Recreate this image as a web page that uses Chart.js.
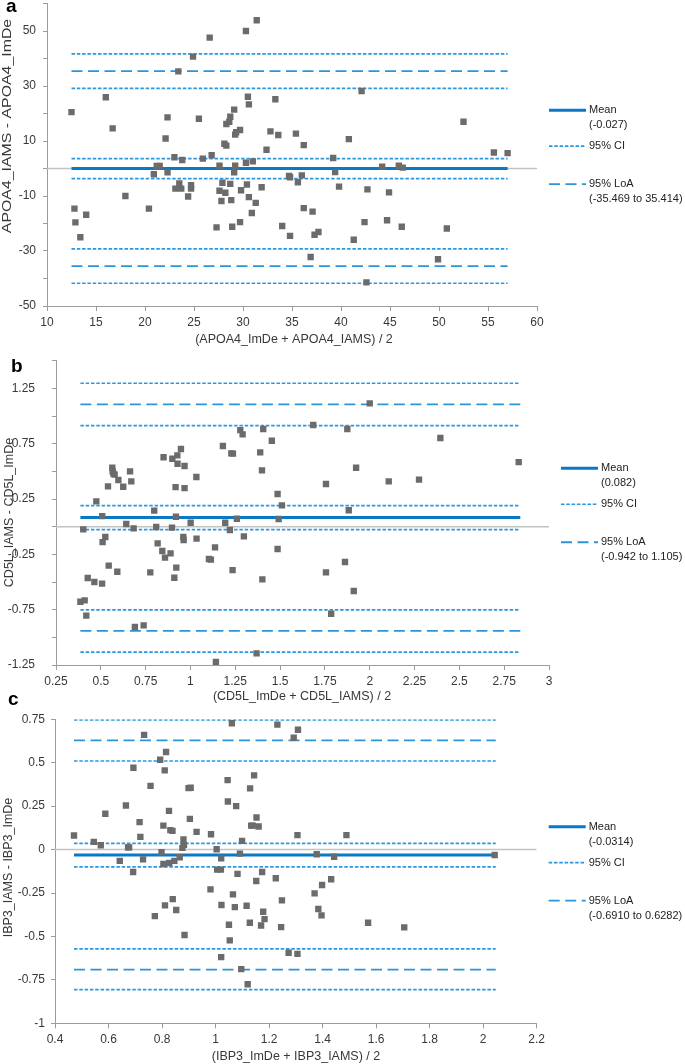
<!DOCTYPE html>
<html>
<head>
<meta charset="utf-8">
<script src="https://cdn.jsdelivr.net/npm/chart.js@4.4.1/dist/chart.umd.min.js"></script>
<style>
  html, body { margin: 0; padding: 0; background: #fff; }
  body { position: relative; width: 685px; height: 1064px; overflow: hidden; }
  canvas { position: absolute; left: 0; }
  .tag { position: absolute; font: bold 19px "Liberation Sans", Arial, sans-serif; line-height: 1; color: #000; }
</style>
</head>
<body>
<canvas id="chartA" width="685" height="355" style="top:0px"></canvas>
<canvas id="chartB" width="685" height="360" style="top:350px"></canvas>
<canvas id="chartC" width="685" height="364" style="top:700px"></canvas>
<div class="tag" style="left:6px;top:-4px">a</div>
<div class="tag" style="left:11px;top:356px">b</div>
<div class="tag" style="left:8px;top:689px">c</div>

<script>
// --- panel a : APOA4 ---
const apoaAvg = [12.5, 12.8, 12.9, 13.4, 14.0, 16.0, 16.7, 18.0, 20.4, 20.9, 21.2, 21.5, 22.1, 22.3, 22.3, 23.0, 23.1, 23.4, 23.5, 23.7,
  23.8, 24.4, 24.7, 24.7, 24.9, 25.5, 25.9, 26.6, 26.8, 27.3, 27.6, 27.6, 27.8, 27.9, 28.1, 28.2, 28.3, 28.3, 28.6, 28.7,
  28.7, 28.8, 28.9, 29.1, 29.1, 29.2, 29.2, 29.3, 29.7, 29.7, 29.8, 30.3, 30.3, 30.4, 30.5, 30.6, 30.6, 30.9, 31.0, 31.3,
  31.4, 31.9, 32.4, 32.8, 33.3, 33.6, 34.0, 34.7, 34.8, 34.8, 35.4, 35.6, 36.0, 36.2, 36.2, 37.1, 36.9, 37.3, 37.7, 39.2,
  39.4, 39.8, 42.1, 52.5, 40.8, 55.6, 57.0, 44.2, 45.9, 46.3, 42.7, 44.9, 42.4, 44.7, 46.2, 50.8, 41.3, 49.9, 42.6];
const apoaDiff = [20.5, -14.6, -19.6, -25.0, -16.8, 25.9, 14.6, -10.0, -14.6, -2.1, 0.9, 0.9, 10.9, -1.4, 18.6, 4.1, -7.3, 35.3, -5.4, -7.3,
  3.1, -10.2, -6.1, -7.3, 40.7, 18.1, 3.6, 47.6, 4.8, -21.4, -8.1, 1.0, -11.8, -5.2, 9.0, -8.8, 8.3, 16.2, 17.0, 18.8,
  -5.6, -11.5, -21.2, 21.4, -1.4, 1.0, 12.3, 13.2, 14.0, -19.5, -7.9, 2.1, 50.0, -5.8, 26.1, 23.3, -10.4, -16.2, 2.6, -12.5,
  53.9, -6.8, 6.8, 13.5, 25.2, 12.2, -20.9, -2.7, -3.2, -24.5, 12.7, -5.0, -2.5, 8.5, -14.4, -15.7, -32.2, -24.1, -23.1, 3.8,
  -1.3, -6.6, 28.2, 17.0, 10.7, 5.8, 5.6, 0.7, 1.0, 0.3, -7.6, -8.7, -19.5, -18.8, -21.2, -21.8, -25.9, -33.0, -41.4];
const apoaMean = -0.027;
const apoaLoA = [-35.469, 35.414];
const apoaMeanCI = [-3.66, 3.60];
const apoaLowCI = [-41.72, -29.22];
const apoaHighCI = [29.16, 41.66];
const apoaSpan = [12.5, 57.0];
const apoaXTicks = [10, 15, 20, 25, 30, 35, 40, 45, 50, 55, 60];
const apoaYTicks = [-50, -40, -30, -20, -10, 0, 10, 20, 30, 40, 50, 60];
const apoaYLabels = [-50, -30, -10, 10, 30, 50];

// --- panel b : CD5L ---
const cd5lAvg = [0.386, 0.410, 0.419, 0.402, 0.427, 0.464, 0.475, 0.507, 0.508, 0.510, 0.525, 0.540, 0.544, 0.564, 0.566, 0.570, 0.577, 0.592, 0.598, 0.625,
  0.642, 0.663, 0.670, 0.683, 0.690, 0.739, 0.776, 0.798, 0.809, 0.817, 0.843, 0.850, 0.858, 0.889, 0.897, 0.899, 0.910, 0.917, 0.919, 0.921,
  0.927, 0.928, 0.947, 0.960, 0.962, 0.967, 0.967, 1.001, 1.033, 1.034, 1.103, 1.114, 1.137, 1.142, 1.181, 1.194, 1.220, 1.228, 1.237, 1.235,
  1.259, 1.278, 1.291, 1.298, 1.369, 1.389, 1.399, 1.401, 1.406, 1.454, 1.486, 1.486, 1.492, 1.510, 1.685, 1.756, 1.756, 1.785, 2.000, 1.875,
  2.394, 1.924, 2.831, 2.106, 2.275, 1.883, 1.862, 1.911];
const cd5lDiff = [-0.678, -0.666, -0.804, -0.024, -0.464, -0.500, 0.229, -0.515, 0.096, -0.139, -0.093, 0.364, -0.352, 0.533, 0.500, 0.479, 0.470, -0.407, 0.422, 0.361,
  0.024, 0.500, 0.410, -0.015, -0.907, -0.892, -0.413, 0.145, -0.003, -0.151, -0.220, 0.627, -0.280, -0.241, -0.009, 0.614, -0.461, 0.358, 0.090, -0.370,
  0.645, 0.569, 0.702, -0.093, -0.120, 0.548, 0.349, 0.036, 0.449, -0.108, -0.292, -0.298, -0.187, -1.223, 0.729, 0.036, -0.030, 0.663, 0.660, -0.392,
  0.072, 0.873, 0.834, -0.087, -1.145, 0.672, 0.509, -0.476, 0.883, 0.777, -0.202, 0.295, 0.069, 0.193, 0.919, 0.386, -0.413, -0.787, 1.114, 0.883,
  0.801, 0.533, 0.584, 0.410, 0.425, 0.148, -0.319, -0.581];
const cd5lMean = 0.082;
const cd5lLoA = [-0.942, 1.105];
const cd5lMeanCI = [-0.027, 0.191];
const cd5lLowCI = [-1.133, -0.751];
const cd5lHighCI = [0.914, 1.296];
const cd5lSpan = [0.386, 2.84];
const cd5lXTicks = [0.25, 0.5, 0.75, 1, 1.25, 1.5, 1.75, 2, 2.25, 2.5, 2.75, 3];
const cd5lYTicks = [-1.25, -1, -0.75, -0.5, -0.25, 0, 0.25, 0.5, 0.75, 1, 1.25, 1.5];
const cd5lYLabels = [-1.25, -0.75, -0.25, 0.25, 0.75, 1.25];

// --- panel c : IBP3 ---
const ibp3Avg = [0.471, 0.545, 0.571, 0.588, 0.642, 0.665, 0.673, 0.677, 0.693, 0.692, 0.716, 0.719, 0.729, 0.733, 0.757, 0.773, 0.793, 0.798, 0.805, 0.805,
  0.810, 0.811, 0.815, 0.826, 0.827, 0.831, 0.839, 0.840, 0.846, 0.853, 0.866, 0.876, 0.880, 0.882, 0.884, 0.899, 0.907, 0.904, 0.929, 0.981,
  0.983, 1.004, 1.006, 1.020, 1.021, 1.021, 1.022, 1.045, 1.046, 1.050, 1.053, 1.061, 1.065, 1.072, 1.077, 1.082, 1.091, 1.099, 1.096, 1.116,
  1.120, 1.128, 1.129, 1.133, 1.139, 1.144, 1.152, 1.153, 1.161, 1.170, 1.174, 1.178, 1.183, 1.225, 1.231, 1.245, 1.248, 1.273, 1.292, 1.306,
  1.306, 1.308, 1.370, 1.378, 1.384, 1.396, 1.398, 1.432, 1.443, 1.489, 2.043, 1.570, 1.705];
const ibp3Diff = [0.081, 0.044, 0.025, 0.206, -0.065, 0.254, 0.013, 0.013, 0.471, -0.129, 0.158, 0.073, -0.056, 0.660, 0.367, -0.383, 0.517, -0.015, 0.138, -0.083,
  0.456, -0.321, 0.562, 0.223, -0.077, 0.112, 0.108, -0.285, -0.065, -0.348, -0.044, 0.010, 0.058, 0.027, -0.492, 0.354, 0.356, 0.177, 0.102, -0.229,
  0.088, 0.002, -0.115, -0.115, -0.050, -0.619, -0.319, 0.400, 0.277, -0.433, -0.523, 0.727, -0.258, -0.331, 0.250, -0.140, -0.023, 0.050, -0.688, -0.323,
  -0.775, -0.421, 0.352, 0.138, 0.138, 0.427, -0.181, 0.185, 0.133, -0.437, -0.129, -0.358, -0.400, -0.165, 0.719, -0.446, -0.292, -0.594, 0.644, -0.600,
  0.083, 0.690, -0.252, -0.027, -0.342, -0.379, -0.204, -0.171, -0.041, 0.083, -0.031, -0.421, -0.448];
const ibp3Mean = -0.0314;
const ibp3LoA = [-0.6910, 0.6282];
const ibp3MeanCI = [-0.099, 0.036];
const ibp3LowCI = [-0.806, -0.572];
const ibp3HighCI = [0.510, 0.746];
const ibp3Span = [0.471, 2.047];
const ibp3XTicks = [0.4, 0.6, 0.8, 1, 1.2, 1.4, 1.6, 1.8, 2, 2.2];
const ibp3YTicks = [-1, -0.75, -0.5, -0.25, 0, 0.25, 0.5, 0.75];
const ibp3YLabels = ibp3YTicks;

const FONT = '"Liberation Sans", Arial, sans-serif';
const TEXT = '#383838';
const AXIS = '#9c9c9c';
const MEAN = { color: '#0b78c6', width: 3, dash: [] };
const CI = { color: '#2a98de', width: 1.7, dash: [3.5, 1.8] };
const LOA = { color: '#2f93d8', width: 1.8, dash: [11, 5.5] };

function hline(y, span, st) {
  return {
    data: [{ x: span[0], y: y }, { x: span[1], y: y }],
    showLine: true, borderColor: st.color, borderWidth: st.width, borderDash: st.dash,
    pointRadius: 0, pointHoverRadius: 0, fill: false
  };
}

// titles and the multi-line legend on the right
const extras = {
  id: 'extras',
  afterDraw(chart, args, o) {
    const ctx = chart.ctx, a = chart.chartArea;
    ctx.save();
    ctx.fillStyle = TEXT;
    ctx.textBaseline = 'middle';
    ctx.font = '12.5px ' + FONT;
    ctx.save();
    ctx.translate(o.yPos[0], o.yPos[1]);
    ctx.rotate(-Math.PI / 2);
    ctx.scale(o.yPos[2], 1);
    ctx.textAlign = 'center';
    ctx.fillText(o.yText, 0, 0);
    ctx.restore();
    ctx.textAlign = 'center';
    ctx.fillText(o.xText, o.xPos[0], o.xPos[1]);

    const cy = (a.top + a.bottom) / 2 - 44.6;
    const x0 = a.right + 12, x1 = x0 + 37, tx = x0 + 40;
    const items = [[MEAN, 0], [CI, 36], [LOA, 74]];
    items.forEach(([st, dy]) => {
      ctx.beginPath();
      ctx.strokeStyle = st.color;
      ctx.lineWidth = st.width;
      ctx.setLineDash(st.dash);
      ctx.moveTo(x0, cy + dy);
      ctx.lineTo(x1, cy + dy);
      ctx.stroke();
    });
    ctx.setLineDash([]);
    ctx.font = '11px ' + FONT;
    ctx.textAlign = 'left';
    ctx.fillStyle = '#222';
    ctx.fillText('Mean', tx, cy);
    ctx.fillText(o.meanText, tx, cy + 15);
    ctx.fillText('95% CI', tx, cy + 36);
    ctx.fillText('95% LoA', tx, cy + 74);
    ctx.fillText(o.loaText, tx, cy + 89);
    ctx.restore();
  }
};

function noPad(s) {
  s.paddingTop = 0; s.paddingBottom = 0; s.paddingLeft = 0; s.paddingRight = 0;
}

function makePanel(id, p) {
  const el = document.getElementById(id);
  const H = el.height;
  const top = p.area.top - p.canvasTop;
  const bottom = p.area.bottom - p.canvasTop;
  const pts = p.avg.map((v, i) => ({ x: v, y: p.diff[i] }));
  const datasets = [
    { data: pts, pointStyle: 'rect', pointRadius: 4.5, pointHoverRadius: 4.5, pointBorderWidth: 0,
      backgroundColor: '#6b6b6b', borderColor: '#6b6b6b', showLine: false },
    hline(p.mean, p.span, MEAN),
    hline(p.meanCI[0], p.span, CI), hline(p.meanCI[1], p.span, CI),
    hline(p.loa[0], p.span, LOA), hline(p.loa[1], p.span, LOA),
    hline(p.lowCI[0], p.span, CI), hline(p.lowCI[1], p.span, CI),
    hline(p.highCI[0], p.span, CI), hline(p.highCI[1], p.span, CI),
    hline(0, [p.xTicks[0], p.xTicks[p.xTicks.length - 1]], { color: '#c2c2c2', width: 1.5, dash: [] })
  ];
  return new Chart(el, {
    type: 'scatter',
    data: { datasets: datasets },
    plugins: [extras],
    options: {
      responsive: false,
      animation: false,
      events: [],
      layout: { autoPadding: false, padding: { left: 0, top: top, right: 685 - p.area.right, bottom: 0 } },
      plugins: {
        legend: { display: false },
        tooltip: { enabled: false },
        extras: {
          yText: p.yText, xText: p.xText, meanText: p.meanText, loaText: p.loaText,
          yPos: [p.yPos[0], p.yPos[1] - p.canvasTop, p.yPos[2]],
          xPos: [p.xPos[0], p.xPos[1] - p.canvasTop]
        }
      },
      scales: {
        x: {
          type: 'linear',
          min: p.xTicks[0], max: p.xTicks[p.xTicks.length - 1],
          afterBuildTicks: s => { s.ticks = p.xTicks.map(v => ({ value: v })); },
          afterFit: s => { s.height = H - bottom; noPad(s); },
          ticks: { autoSkip: false, maxRotation: 0, padding: 4, color: TEXT, font: { family: FONT, size: 12 },
            callback: v => String(v) },
          grid: { drawOnChartArea: false, drawTicks: true, tickLength: 5, color: AXIS },
          border: { display: true, color: AXIS, width: 1 }
        },
        y: {
          type: 'linear',
          min: p.yTicks[0], max: p.yTicks[p.yTicks.length - 1],
          afterBuildTicks: s => { s.ticks = p.yTicks.map(v => ({ value: v })); },
          afterFit: s => { s.width = p.area.left; noPad(s); },
          ticks: { autoSkip: false, padding: p.yPad, color: TEXT, font: { family: FONT, size: 12 },
            callback: v => p.yLabels.includes(v) ? String(v) : '' },
          grid: { drawOnChartArea: false, drawTicks: true, tickLength: 4, color: AXIS },
          border: { display: true, color: AXIS, width: 1 }
        }
      }
    }
  });
}

makePanel('chartA', {
  canvasTop: 0, area: { left: 47, right: 537, top: 3.5, bottom: 306 }, yPad: 7,
  avg: apoaAvg, diff: apoaDiff, mean: apoaMean, loa: apoaLoA, meanCI: apoaMeanCI, lowCI: apoaLowCI, highCI: apoaHighCI,
  span: apoaSpan, xTicks: apoaXTicks, yTicks: apoaYTicks, yLabels: apoaYLabels,
  yText: 'APOA4_IAMS - APOA4_ImDe', xText: '(APOA4_ImDe + APOA4_IAMS) / 2',
  meanText: '(-0.027)', loaText: '(-35.469 to 35.414)',
  yPos: [8, 126, 1.27], xPos: [294, 340]
});

makePanel('chartB', {
  canvasTop: 350, area: { left: 56, right: 549, top: 360.7, bottom: 665 }, yPad: 17,
  avg: cd5lAvg, diff: cd5lDiff, mean: cd5lMean, loa: cd5lLoA, meanCI: cd5lMeanCI, lowCI: cd5lLowCI, highCI: cd5lHighCI,
  span: cd5lSpan, xTicks: cd5lXTicks, yTicks: cd5lYTicks, yLabels: cd5lYLabels,
  yText: 'CD5L_IAMS - CD5L_ImDe', xText: '(CD5L_ImDe + CD5L_IAMS) / 2',
  meanText: '(0.082)', loaText: '(-0.942 to 1.105)',
  yPos: [10, 512.5, 1], xPos: [302, 697]
});

makePanel('chartC', {
  canvasTop: 700, area: { left: 55, right: 536.7, top: 719.3, bottom: 1023.3 }, yPad: 6,
  avg: ibp3Avg, diff: ibp3Diff, mean: ibp3Mean, loa: ibp3LoA, meanCI: ibp3MeanCI, lowCI: ibp3LowCI, highCI: ibp3HighCI,
  span: ibp3Span, xTicks: ibp3XTicks, yTicks: ibp3YTicks, yLabels: ibp3YLabels,
  yText: 'IBP3_IAMS - IBP3_ImDe', xText: '(IBP3_ImDe + IBP3_IAMS) / 2',
  meanText: '(-0.0314)', loaText: '(-0.6910 to 0.6282)',
  yPos: [8.5, 867.5, 1], xPos: [296, 1056.5]
});
</script>
</body>
</html>
